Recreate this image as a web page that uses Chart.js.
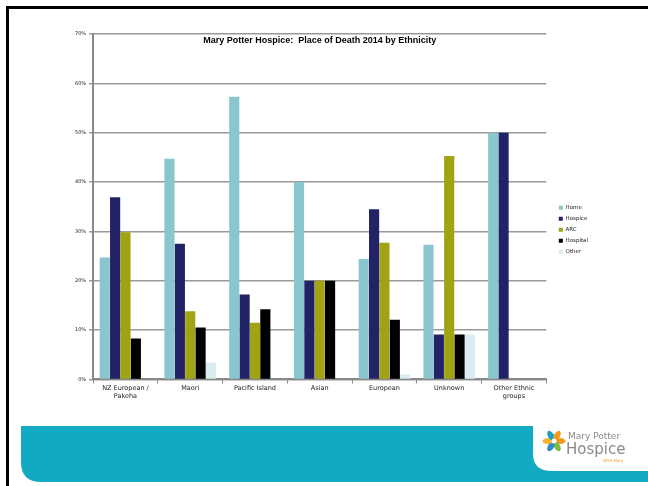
<!DOCTYPE html>
<html>
<head>
<meta charset="utf-8">
<script src="https://cdn.jsdelivr.net/npm/chart.js@4.4.1/dist/chart.umd.min.js"></script>
<style>
  html, body { margin: 0; padding: 0; background: #fff; }
  #wrap { position: relative; width: 648px; height: 486px; }
</style>
</head>
<body>
<div id="wrap"><canvas id="deaths" width="648" height="486"></canvas></div>
<script>
// Place of death by ethnicity, 2014 (fractions of deaths)
var categories = [["NZ European /", "Pakeha"], "Maori", "Pacific Island", "Asian", "European", "Unknown", ["Other Ethnic", "groups"]];
var home     = [0.247, 0.447, 0.573, 0.400, 0.244, 0.273, 0.500];
var hospice  = [0.369, 0.275, 0.172, 0.200, 0.345, 0.091, 0.500];
var arc      = [0.298, 0.138, 0.115, 0.200, 0.277, 0.453, 0];
var hospital = [0.083, 0.105, 0.142, 0.200, 0.121, 0.091, 0];
var other    = [0, 0.034, 0, 0, 0.010, 0.091, 0];
var yTicks   = [0, 0.1, 0.2, 0.3, 0.4, 0.5, 0.6, 0.7];

var chartTitle = "Mary Potter Hospice:  Place of Death 2014 by Ethnicity";

// slide frame, teal banner and logo behind the chart
var slideDecor = {
    id: 'slideDecor',
    afterLayout: function (chart) {
        // push the legend a little away from the plot
        chart.legend.left += 7;
        chart.legend.right += 7;
    },
    beforeDraw: function (chart) {
        var ctx = chart.ctx;
        ctx.save();
        ctx.fillStyle = '#fff';
        ctx.fillRect(0, 0, 648, 486);

        // banner
        ctx.fillStyle = '#12a9c3';
        ctx.beginPath();
        ctx.moveTo(21, 426);
        ctx.lineTo(533, 426);
        ctx.lineTo(533, 454);
        ctx.quadraticCurveTo(533, 471, 552, 471);
        ctx.lineTo(648, 471);
        ctx.lineTo(648, 482);
        ctx.lineTo(41, 482);
        ctx.quadraticCurveTo(21, 482, 21, 462);
        ctx.closePath();
        ctx.fill();

        // logo flower
        var cx = 554, cy = 441;
        var petals = ['#f39a1e', '#7dbb42', '#2a8fc8', '#f7b52c', '#1aa0c8', '#f39a1e'];
        for (var i = 0; i < 6; i++) {
            var a = i * Math.PI / 3;
            ctx.fillStyle = petals[i];
            ctx.beginPath();
            ctx.ellipse(cx + Math.cos(a) * 6, cy + Math.sin(a) * 6, 5.5, 3, a, 0, Math.PI * 2);
            ctx.fill();
        }
        ctx.fillStyle = '#fff';
        ctx.beginPath();
        ctx.arc(cx, cy, 2.5, 0, Math.PI * 2);
        ctx.fill();

        ctx.fillStyle = '#8a8a8a';
        ctx.textBaseline = 'alphabetic';
        ctx.font = '9px "DejaVu Sans"';
        ctx.fillText('Mary Potter', 568, 439);
        ctx.font = '15px "DejaVu Sans"';
        ctx.fillText('Hospice', 566, 454);
        ctx.fillStyle = '#f39a1e';
        ctx.font = 'italic 4px "DejaVu Sans"';
        ctx.fillText('With Mary', 603, 462);

        // frame
        ctx.fillStyle = '#000';
        ctx.fillRect(6, 6, 642, 3);
        ctx.fillRect(6, 6, 3, 480);
        ctx.restore();
    },
    afterDatasetsDraw: function (chart) {
        var ctx = chart.ctx, area = chart.chartArea;
        ctx.save();
        ctx.fillStyle = '#000';
        ctx.font = 'bold 9px "Liberation Sans"';
        ctx.textAlign = 'center';
        ctx.textBaseline = 'middle';
        ctx.fillText(chartTitle, (area.left + area.right) / 2, area.top + 7);
        ctx.restore();
    }
};

new Chart(document.getElementById("deaths"), {
    type: 'bar',
    data: {
        labels: categories,
        datasets: [
            { label: "Home",     backgroundColor: "#8ac6ce", data: home },
            { label: "Hospice",  backgroundColor: "#222266", data: hospice },
            { label: "ARC",      backgroundColor: "#a0a412", data: arc },
            { label: "Hospital", backgroundColor: "#000000", data: hospital },
            { label: "Other",    backgroundColor: "#d9edf0", data: other }
        ]
    },
    plugins: [slideDecor],
    options: {
        responsive: false,
        animation: false,
        datasets: { bar: { barPercentage: 0.98, categoryPercentage: 0.8 } },
        layout: { padding: { left: 72, right: 57, top: 34, bottom: 85 } },
        plugins: {
            legend: {
                position: 'right',
                align: 'start',
                title: { display: true, text: '', padding: { top: 151, bottom: 0 } },
                labels: {
                    boxWidth: 4, boxHeight: 4, padding: 5.5,
                    color: '#222',
                    font: { family: 'DejaVu Sans', size: 5.5 }
                }
            },
            title: { display: false },
            tooltip: { enabled: false }
        },
        scales: {
            x: {
                grid: { display: true, drawOnChartArea: false, tickLength: 4, color: '#888', offset: true },
                border: { color: '#888', width: 2 },
                ticks: { color: '#222', font: { family: 'DejaVu Sans', size: 6.5 }, maxRotation: 0, autoSkip: false, padding: 1 }
            },
            y: {
                min: 0, max: 0.7,
                afterBuildTicks: function (axis) { axis.ticks = yTicks.map(function (v) { return { value: v }; }); },
                grid: { color: '#999', lineWidth: 1.5, tickLength: 4 },
                border: { color: '#888', width: 2 },
                ticks: {
                    color: '#222', font: { family: 'DejaVu Sans', size: 5 }, padding: 3,
                    callback: function (v) { return Math.round(v * 100) + '%'; }
                }
            }
        }
    }
});
</script>
</body>
</html>
